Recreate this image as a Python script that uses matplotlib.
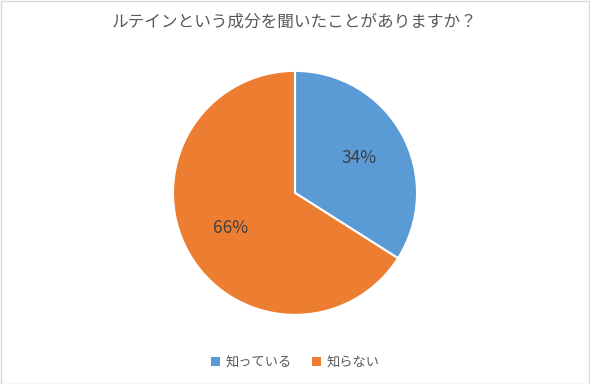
import matplotlib.pyplot as plt
from matplotlib.patches import Rectangle, Patch

plt.rcParams['font.family'] = ['Noto Sans CJK JP', 'DejaVu Sans']

title = "ルテインという成分を聞いたことがありますか？"
labels = ["知っている", "知らない"]
values = [34, 66]
colors = ["#5B9BD5", "#ED7D31"]

fig = plt.figure(figsize=(5.9, 3.84), dpi=100)
fig.patch.set_facecolor("white")

# chart border
fig.patches.append(Rectangle((0.001, 0.001), 0.997, 0.996, transform=fig.transFigure,
                             fill=False, edgecolor="#D9D9D9", linewidth=1.0))

ax = fig.add_axes([0.2932, 0.18, 0.4136, 0.6354])
wedges, texts, autotexts = ax.pie(values, colors=colors, startangle=90, counterclock=False,
                                  autopct="%d%%", pctdistance=0.6,
                                  wedgeprops=dict(edgecolor="white", linewidth=1.5),
                                  textprops=dict(color="#404040", fontsize=12.5))
ax.set_xlim(-1, 1)
ax.set_ylim(-1, 1)
ax.set_aspect("equal")

fig.text(0.5, 0.943, title, ha="center", va="center", fontsize=12, color="#595959")

handles = [Patch(facecolor=c, edgecolor="none") for c in colors]
fig.legend(handles, labels, loc="center", bbox_to_anchor=(0.5, 0.055), ncol=2, frameon=False,
           fontsize=9.5, handlelength=0.7, handleheight=0.7, handletextpad=0.4, columnspacing=1.5,
           labelcolor="#595959")

fig.savefig("out.png", dpi=100)
